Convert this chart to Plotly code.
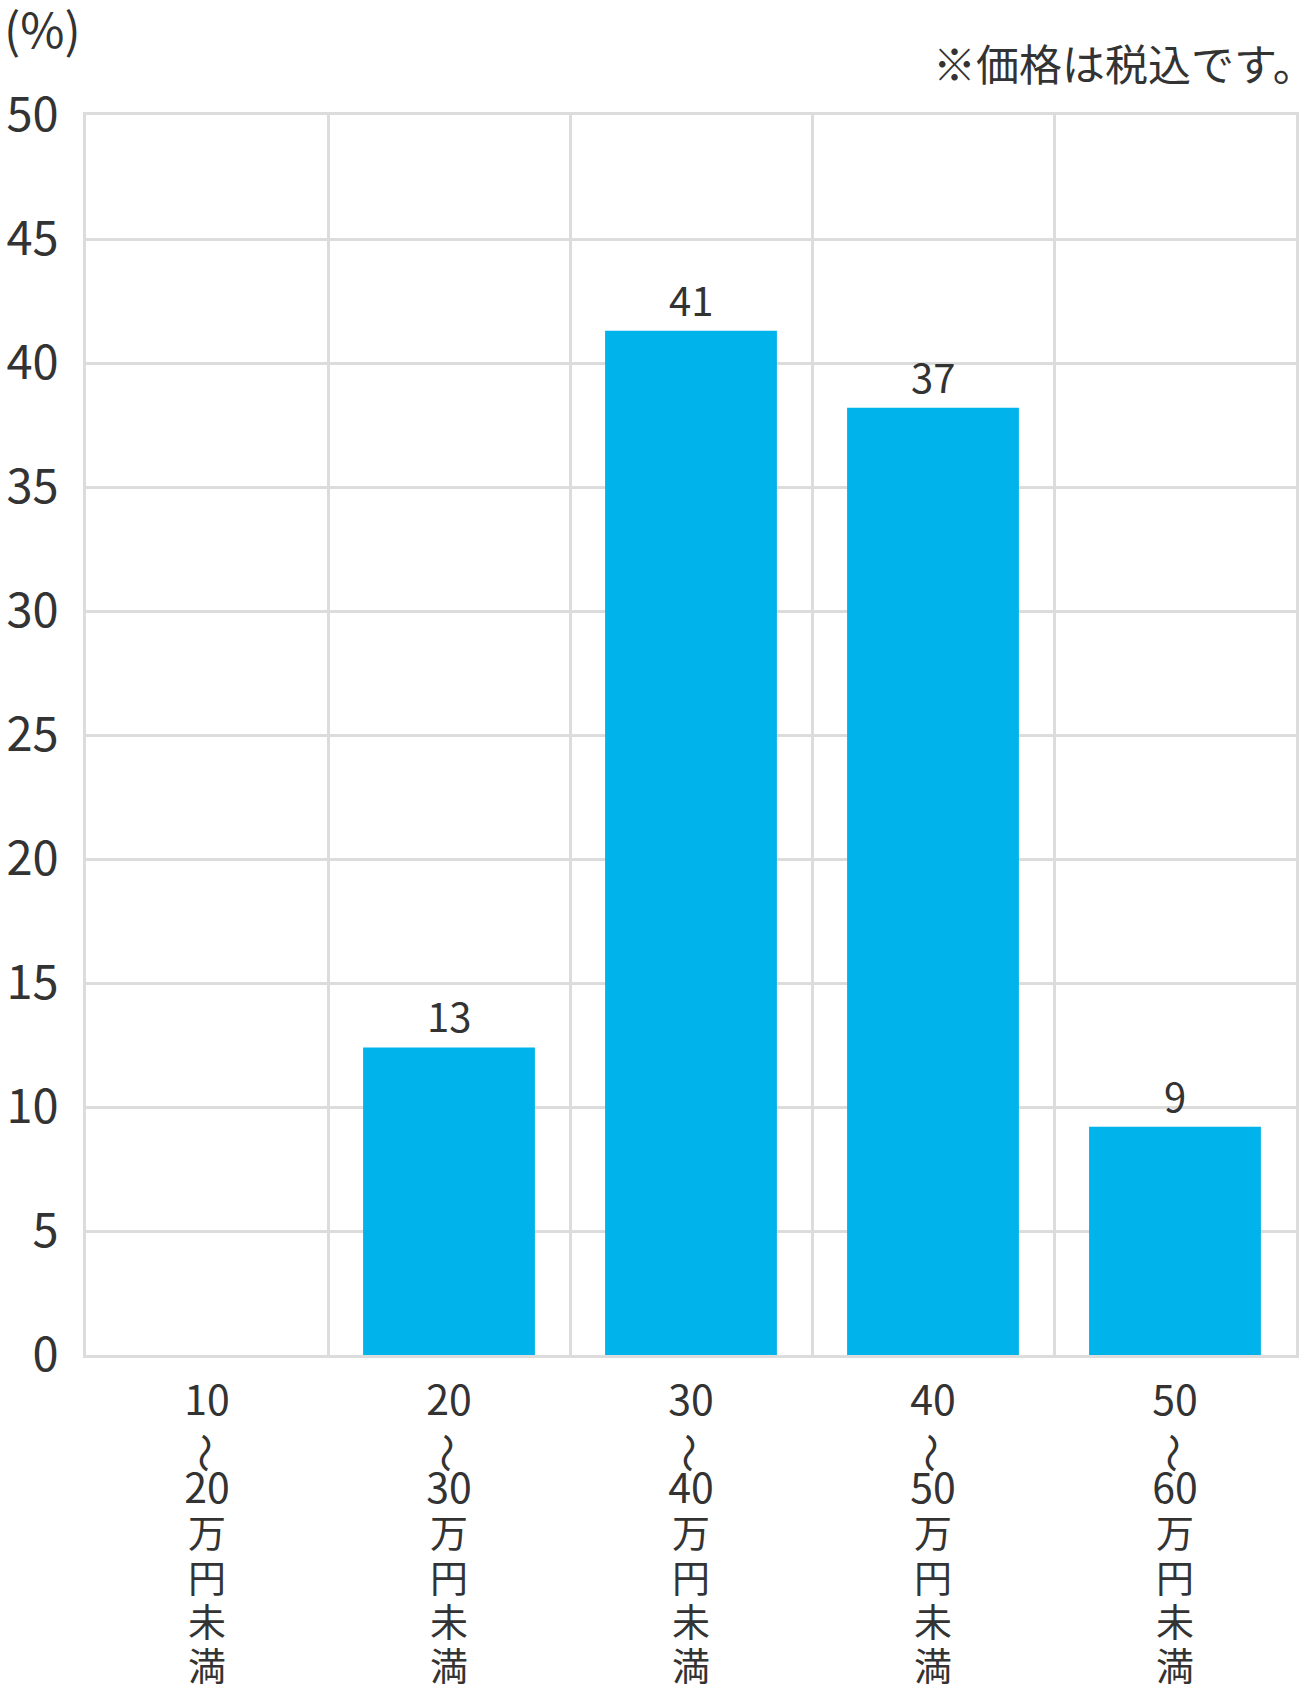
import plotly.graph_objects as go

# ---- data ----
cat_from = ["10", "20", "30", "40", "50"]
cat_to = ["20", "30", "40", "50", "60"]
wave = "〜"
suffix = ["万", "円", "未", "満"]
categories = [f"{a}〜{b}万円未満" for a, b in zip(cat_from, cat_to)]
bar_values = [0, 12.4, 41.3, 38.2, 9.2]
value_labels = ["", "13", "41", "37", "9"]
y_ticks = [0, 5, 10, 15, 20, 25, 30, 35, 40, 45, 50]
unit_label = "(%)"
note_text = "※価格は税込です。"

FONT = "Noto Sans CJK JP"
TXT = "#333333"
GRID = "#dcdcdc"
BAR = "#00b3ea"

W, H = 1299, 1685
PL, PR, PT, PB = 86, 1296, 115, 1355  # plot area in page px
pw, ph = PR - PL, PB - PT


def big(s, px):
    return f'<span style="font-size:{px}px">{s}</span>'


# stacked (vertical writing) tick labels; line 2 is left blank for the rotated wave dash
tick_text = ["<br>".join([big(a, 41), "\u3000", big(b, 41)] + [big(k, 38) for k in suffix])
             for a, b in zip(cat_from, cat_to)]

fig = go.Figure()
fig.add_trace(go.Bar(
    x=categories, y=bar_values, marker=dict(color=BAR, line=dict(width=0)),
    width=0.71, showlegend=False, hoverinfo="skip",
))

for c, v, t in zip(categories, bar_values, value_labels):
    if t:
        fig.add_annotation(x=c, y=v, text=t, showarrow=False, xref="x", yref="y",
                           yanchor="bottom", yshift=1,
                           font=dict(family=FONT, size=40, color=TXT))

for c in categories:
    fig.add_annotation(x=c, xref="x", yref="paper", y=(PB - 1453) / ph,
                       text=wave, textangle=90, showarrow=False,
                       xanchor="center", yanchor="middle",
                       font=dict(family=FONT, size=40, color=TXT))

fig.add_annotation(xref="paper", yref="paper", x=(2 - PL) / pw, y=1 + (PT - 27) / ph,
                   xanchor="left", yanchor="middle", text=unit_label, showarrow=False,
                   font=dict(family=FONT, size=48, color=TXT))
fig.add_annotation(xref="paper", yref="paper", x=(1318 - PL) / pw, y=1 + (PT - 62) / ph,
                   xanchor="right", yanchor="middle", text=note_text, showarrow=False,
                   font=dict(family=FONT, size=43, color=TXT))

fig.update_layout(
    width=W, height=H,
    margin=dict(l=PL, r=W - PR, t=PT, b=H - PB, autoexpand=False),
    paper_bgcolor="white", plot_bgcolor="white",
    font=dict(family=FONT, color=TXT),
    xaxis=dict(type="category", tickson="boundaries", showgrid=True,
               gridcolor=GRID, gridwidth=3, showline=True, mirror=True,
               linecolor=GRID, linewidth=3, ticks="",
               tickmode="array", tickvals=categories, ticktext=tick_text,
               ticklabelstandoff=16, automargin=False,
               tickfont=dict(family=FONT, size=34, color=TXT), fixedrange=True),
    yaxis=dict(range=[0, 50], tickmode="array", tickvals=y_ticks,
               ticktext=[str(v) for v in y_ticks], showgrid=True,
               gridcolor=GRID, gridwidth=3, showline=True, mirror=True,
               linecolor=GRID, linewidth=3, ticks="", ticklabelstandoff=15,
               zeroline=False, automargin=False,
               tickfont=dict(family=FONT, size=47, color=TXT), fixedrange=True),
    bargap=0.29,
)

fig.write_html("out.html", config={"displayModeBar": False},
               post_script="document.body.style.margin='0';document.body.style.overflow='hidden';")
